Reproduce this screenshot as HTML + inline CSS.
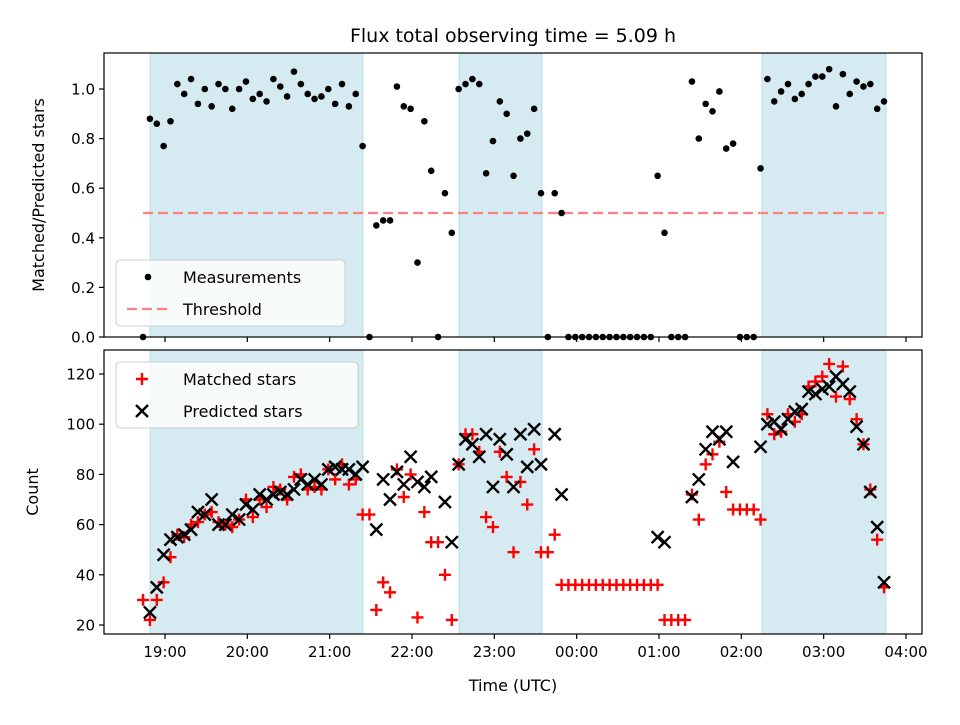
<!DOCTYPE html>
<html><head><meta charset="utf-8"><style>
body{margin:0;background:#fff;}
svg text{font-family:"DejaVu Sans","Liberation Sans",sans-serif;fill:#000;}
</style></head><body>
<svg id="chart" width="960" height="720" xmlns="http://www.w3.org/2000/svg">
<text x="513" y="42" font-size="19" text-anchor="middle">Flux total observing time = 5.09 h</text>
<text transform="translate(44,195) rotate(-90)" font-size="16" text-anchor="middle">Matched/Predicted stars</text>
<text transform="translate(38,492) rotate(-90)" font-size="16" text-anchor="middle">Count</text>
<text x="513" y="691" font-size="16" text-anchor="middle">Time (UTC)</text>
<g id="top"></g>
<g id="bot"></g>
</svg>
<script>
const times=[44,49,54,59,64,69,74,79,84,89,94,99,104,109,114,119,124,129,134,139,144,149,154,159,164,169,174,179,184,189,194,199,204,209,214,219,224,229,234,239,244,249,254,259,264,269,274,279,284,289,294,299,304,309,314,319,324,329,334,339,344,349,354,359,364,369,374,379,384,389,394,399,404,409,414,419,424,429,434,439,444,449,454,459,464,469,474,479,484,489,494,499,504,509,514,519,524,529,534,539,544,549,554,559,564,569,574,579,584];
const ratio=[0,.88,.86,.77,.87,1.02,.98,1.04,.94,1.0,.93,1.02,1.0,.92,1.0,1.03,.96,.98,.95,1.04,1.01,.97,1.07,1.02,.98,.96,.97,1.0,.94,1.02,.93,.98,.77,0,.45,.47,.47,1.01,.93,.92,.3,.87,.67,0,.58,.42,1.0,1.02,1.04,1.02,.66,.79,.95,.9,.65,.8,.82,.92,.58,0,.58,.5,0,0,0,0,0,0,0,0,0,0,0,0,0,.65,.42,0,0,0,1.03,.8,.94,.91,.99,.76,.78,0,0,0,.68,1.04,.95,.99,1.02,.96,.98,1.02,1.05,1.05,1.08,.93,1.06,.98,1.03,1.01,1.02,.92,.95];
const matched=[30,22,30,37,47,56,55,60,61,64,65,61,60,59,62,70,63,70,67,75,74,70,79,80,74,75,74,82,78,84,76,78,64,64,26,37,33,82,71,80,23,65,53,53,40,22,84,96,96,89,63,59,89,79,49,77,68,90,49,49,56,36,36,36,36,36,36,36,36,36,36,36,36,36,36,36,22,22,22,22,72,62,84,88,93,73,66,66,66,66,62,104,96,97,104,101,104,115,117,119,124,111,123,110,102,92,74,54,35];
const predicted=[null,25,35,48,54,55,56,58,65,64,70,60,60,64,62,68,66,72,70,72,73,72,74,78,76,78,76,82,83,82,82,80,83,null,58,78,70,81,76,87,77,75,79,null,69,53,84,94,92,87,96,75,94,88,75,96,83,98,84,null,96,72,null,null,null,null,null,null,null,null,null,null,null,null,null,55,53,null,null,null,71,78,90,97,94,97,85,null,null,null,91,100,101,98,102,105,106,113,112,114,115,119,116,113,99,92,73,59,37];
const spanStarts=[49.1,274.3,495];
const spanEnds=[204.3,334.7,585.4];
const threshold=0.5;
const thresholdRange=[44,584];
const xTickMins=[60,120,180,240,300,360,420,480,540,600];
const xTickLabels=["19:00","20:00","21:00","22:00","23:00","00:00","01:00","02:00","03:00","04:00"];
const topTicks=[0,0.2,0.4,0.6,0.8,1.0];
const topTickLabels=["0.0","0.2","0.4","0.6","0.8","1.0"];
const botTicks=[20,40,60,80,100,120];
const botTickLabels=["20","40","60","80","100","120"];

const NS="http://www.w3.org/2000/svg";
const L=104,R=922;
const X=m=>165+(m-60)/60*82.333;
const Yt=v=>337-v*248;
const Yb=v=>625-(v-20)*2.51;
function mk(p,t,a){const e=document.createElementNS(NS,t);for(const k in a)e.setAttribute(k,a[k]);p.appendChild(e);return e;}

function panel(g,top,bot,Y,ticks,labels,showX,name){
  const cp=mk(g,'clipPath',{id:'c'+name});mk(cp,'rect',{x:L-8,y:top-8,width:R-L+16,height:bot-top+16});
  for(let i=0;i<spanStarts.length;i++){
    const r=mk(g,'rect',{x:X(spanStarts[i]),y:top,width:X(spanEnds[i])-X(spanStarts[i]),height:bot-top,fill:'#d5ebf1',stroke:'#bcdde6','stroke-width':1});
    
    
  }
  const frame=mk(g,'rect',{x:L,y:top,width:R-L,height:bot-top,fill:'none',stroke:'#000','stroke-width':1.2});
  
  
  ticks.forEach((v,i)=>{
    const y=Y(v);
    mk(g,'line',{x1:L-5,x2:L,y1:y,y2:y,stroke:'#000','stroke-width':1.2});
    const t=mk(g,'text',{x:L-9,y:y+5.5,'font-size':15,'text-anchor':'end'});t.textContent=labels[i];
    
    
  });
  xTickMins.forEach((m,i)=>{
    const x=X(m);
    mk(g,'line',{x1:x,x2:x,y1:bot,y2:bot+5,stroke:'#000','stroke-width':1.2});
    if(showX){const t=mk(g,'text',{x:x,y:bot+23,'font-size':15,'text-anchor':'middle'});t.textContent=xTickLabels[i];
      
      }
  });
  return mk(g,'g',{'clip-path':'url(#c'+name+')'});
}
// top
const gt=document.getElementById('top');
const pt=panel(gt,53,337,Yt,topTicks,topTickLabels,false,'t');
const th=mk(pt,'line',{x1:X(thresholdRange[0]),x2:X(thresholdRange[1]),y1:Yt(threshold),y2:Yt(threshold),stroke:'#ff8080','stroke-width':2.2,'stroke-dasharray':'10,5'});


times.forEach((m,i)=>{
  const c=mk(pt,'circle',{cx:X(m),cy:Yt(ratio[i]),r:3.3,fill:'#000'});
  
  
});
// bottom
const gb=document.getElementById('bot');
const pb=panel(gb,350,634,Yb,botTicks,botTickLabels,true,'b');
times.forEach((m,i)=>{
  const x=X(m),y=Yb(matched[i]);
  const p=mk(pb,'path',{d:`M${x-6},${y}H${x+6}M${x},${y-6}V${y+6}`,stroke:'#ff0000','stroke-width':2.4});
  
  
});
times.forEach((m,i)=>{
  if(predicted[i]==null)return;
  const x=X(m),y=Yb(predicted[i]),s=6;
  const p=mk(pb,'path',{d:`M${x-s},${y-s}L${x+s},${y+s}M${x-s},${y+s}L${x+s},${y-s}`,stroke:'#000','stroke-width':2.4});
  
  
});
// legends
function legend(g,x,y,w,h,items,name){
  const lg=mk(g,'g',{});
  
  
  mk(lg,'rect',{x:x,y:y,width:w,height:h,rx:4,fill:'#fff','fill-opacity':0.8,stroke:'#ccc','stroke-width':1});
  items.forEach((it,i)=>{
    const cy=y+17+i*32;
    const mx=x+26;
    if(it.t==='dot')mk(lg,'circle',{cx:mx+6,cy:cy,r:3.3,fill:'#000'});
    if(it.t==='dash')mk(lg,'line',{x1:mx-15,x2:mx+26,y1:cy,y2:cy,stroke:'#ff8080','stroke-width':2.2,'stroke-dasharray':'10,5'});
    if(it.t==='plus')mk(lg,'path',{d:`M${mx-6},${cy}H${mx+6}M${mx},${cy-6}V${cy+6}`,stroke:'#f00','stroke-width':2.4});
    if(it.t==='x')mk(lg,'path',{d:`M${mx-6},${cy-6}L${mx+6},${cy+6}M${mx-6},${cy+6}L${mx+6},${cy-6}`,stroke:'#000','stroke-width':2.4});
    const t=mk(lg,'text',{x:x+67,y:cy+6,'font-size':16});t.textContent=it.label;
  });
}
legend(gt,116,260,229,66,[{t:'dot',label:'Measurements'},{t:'dash',label:'Threshold'}],'top-legend');
legend(gb,116,362,242,66,[{t:'plus',label:'Matched stars'},{t:'x',label:'Predicted stars'}],'bottom-legend');
</script>
</body></html>
